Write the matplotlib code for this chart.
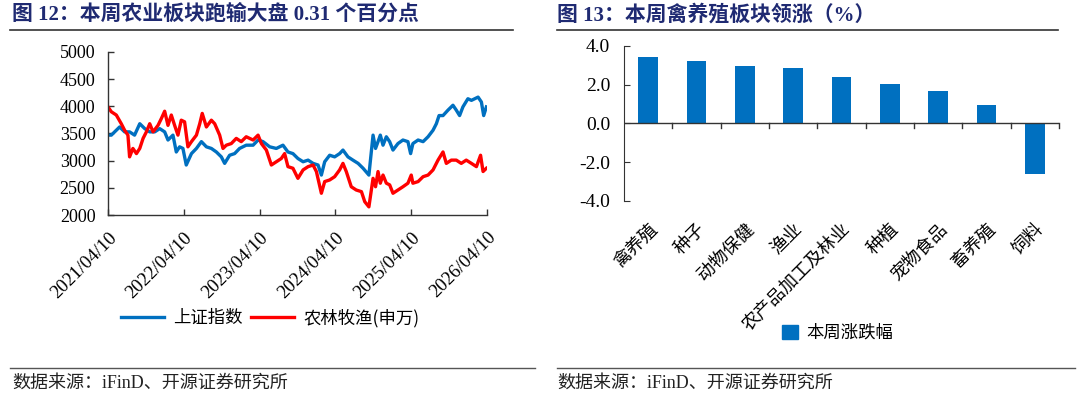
import matplotlib
matplotlib.use("Agg")
import matplotlib.pyplot as plt
import pandas as pd
from matplotlib.lines import Line2D
from matplotlib.patches import Patch

plt.rcParams['font.family'] = ['Liberation Serif', 'Noto Sans CJK SC', 'DejaVu Sans']

# ---------------- data ----------------
sh_dates = ["2021-04-10", "2021-04-26", "2021-05-20", "2021-06-05", "2021-06-29", "2021-07-23",
            "2021-08-16", "2021-09-10", "2021-10-04", "2021-10-28", "2021-11-21", "2021-12-15",
            "2022-01-08", "2022-01-24", "2022-02-17", "2022-03-05", "2022-03-21", "2022-04-06",
            "2022-04-22", "2022-05-17", "2022-06-10", "2022-07-04", "2022-07-28", "2022-08-21",
            "2022-09-14", "2022-10-08", "2022-10-24", "2022-11-17", "2022-12-11", "2023-01-04",
            "2023-02-05", "2023-03-10", "2023-04-03", "2023-04-27", "2023-05-29", "2023-06-30",
            "2023-08-01", "2023-08-25", "2023-09-18", "2023-10-12", "2023-11-06", "2023-11-30",
            "2023-12-24", "2024-01-17", "2024-02-02", "2024-02-18", "2024-03-13", "2024-04-06",
            "2024-04-30", "2024-05-16", "2024-06-09", "2024-07-03", "2024-07-28", "2024-08-21",
            "2024-09-18", "2024-10-08", "2024-10-20", "2024-11-01", "2024-11-12", "2024-11-25",
            "2024-12-11", "2024-12-27", "2025-01-12", "2025-02-05", "2025-03-01", "2025-03-25",
            "2025-04-07", "2025-04-18", "2025-05-13", "2025-06-06", "2025-06-30", "2025-07-24",
            "2025-08-09", "2025-08-22", "2025-09-10", "2025-10-04", "2025-10-28", "2025-11-13",
            "2025-11-29", "2025-12-15", "2026-01-08", "2026-01-25", "2026-02-10", "2026-02-26",
            "2026-03-14", "2026-03-25", "2026-04-07"]
sh_values = [3470, 3470, 3560, 3620, 3530, 3530,
             3470, 3680, 3590, 3530, 3530, 3590,
             3530, 3380, 3470, 3160, 3255, 3225,
             2920, 3130, 3225, 3350, 3255, 3225,
             3160, 3070, 2950, 3100, 3130, 3225,
             3285, 3285, 3380, 3350, 3255, 3225,
             3285, 3160, 3130, 3040, 2980, 3010,
             2950, 2920, 2735, 2980, 3100, 3070,
             3130, 3195, 3070, 3010, 2950, 2860,
             2735, 3470, 3225, 3350, 3470, 3285,
             3440, 3350, 3195, 3315, 3380, 3350,
             3130, 3315, 3380, 3350, 3440, 3560,
             3680, 3830, 3830, 3930, 4020, 3930,
             3830, 3990, 4140, 4110, 4140, 4170,
             4080, 3830, 3990]

ag_dates = ["2021-04-10", "2021-04-26", "2021-05-20", "2021-06-13", "2021-06-29", "2021-07-15",
            "2021-07-23", "2021-08-08", "2021-08-25", "2021-09-10", "2021-09-26", "2021-10-12",
            "2021-10-28", "2021-11-13", "2021-12-07", "2021-12-23", "2022-01-08", "2022-01-24",
            "2022-02-09", "2022-02-25", "2022-03-13", "2022-03-29", "2022-04-14", "2022-04-30",
            "2022-05-17", "2022-06-10", "2022-06-26", "2022-07-08", "2022-07-28", "2022-08-21",
            "2022-09-06", "2022-09-30", "2022-10-16", "2022-11-01", "2022-11-25", "2022-12-19",
            "2023-01-12", "2023-02-05", "2023-03-10", "2023-04-03", "2023-04-19", "2023-05-13",
            "2023-06-06", "2023-06-30", "2023-07-24", "2023-08-09", "2023-08-25", "2023-09-18",
            "2023-10-12", "2023-11-06", "2023-11-30", "2023-12-24", "2024-01-09", "2024-02-02",
            "2024-02-18", "2024-03-13", "2024-04-06", "2024-04-30", "2024-05-16", "2024-06-01",
            "2024-06-25", "2024-07-19", "2024-08-13", "2024-08-29", "2024-09-18", "2024-10-08",
            "2024-10-20", "2024-11-01", "2024-11-12", "2024-11-25", "2024-12-11", "2024-12-27",
            "2025-01-12", "2025-02-05", "2025-03-01", "2025-03-25", "2025-04-10", "2025-04-18",
            "2025-05-13", "2025-06-06", "2025-06-30", "2025-07-24", "2025-08-17", "2025-09-10",
            "2025-09-26", "2025-10-20", "2025-11-13", "2025-12-07", "2025-12-31", "2026-01-25",
            "2026-02-18", "2026-03-10", "2026-03-22", "2026-04-07"]
ag_values = [3990, 3900, 3840, 3680, 3560, 3470,
             3070, 3225, 3130, 3225, 3410, 3530,
             3680, 3530, 3650, 3775, 3910, 3650,
             3840, 3650, 3470, 3745, 3715, 3255,
             3350, 3470, 3680, 3870, 3620, 3745,
             3680, 3470, 3225, 3285, 3315, 3410,
             3350, 3440, 3380, 3470, 3315, 3195,
             2920, 2980, 3040, 3130, 2890, 2860,
             2675, 2830, 2890, 2920, 2800, 2400,
             2615, 2645, 2705, 2830, 2950, 2800,
             2520, 2460, 2430, 2245, 2150, 2675,
             2520, 2800, 2585, 2735, 2585, 2555,
             2400, 2460, 2520, 2585, 2735, 2585,
             2615, 2705, 2735, 2830, 3010, 3160,
             2950, 3010, 3010, 2950, 3010, 2950,
             2890, 3100, 2800, 2860]

date_ticks = ["2021-04-10", "2022-04-10", "2023-04-10", "2024-04-10", "2025-04-10", "2026-04-10"]
date_tick_labels = ["2021/04/10", "2022/04/10", "2023/04/10", "2024/04/10", "2025/04/10", "2026/04/10"]
y_ticks_left = [2000, 2500, 3000, 3500, 4000, 4500, 5000]

categories = ["禽养殖", "种子", "动物保健", "渔业", "农产品加工及林业", "种植", "宠物食品", "畜养殖", "饲料"]
weekly_change = [3.41, 3.24, 2.95, 2.84, 2.41, 2.05, 1.69, 0.93, -2.64]
y_ticks_right = [-4.0, -2.0, 0.0, 2.0, 4.0]

# ---------------- figure ----------------
BLUE = "#0070C0"
RED = "#FF0000"
TITLE_C = "#1F2A72"

fig = plt.figure(figsize=(10.8, 3.99), dpi=100)

# Titles and rules
fig.text(12/1080, 1-15/399, "图 12：本周农业板块跑输大盘 0.31 个百分点", fontsize=15, fontweight='bold',
         color=TITLE_C, ha='left', va='center')
fig.text(557/1080, 1-15/399, "图 13：本周禽养殖板块领涨（%）", fontsize=15, fontweight='bold',
         color=TITLE_C, ha='left', va='center')
for x0, x1 in [(10, 513), (557, 1058)]:
    fig.add_artist(Line2D([x0/1080, x1/1080], [1-30/399, 1-30/399], color='#333333', lw=1.2))
for x0, x1 in [(10, 535), (557, 1075)]:
    fig.add_artist(Line2D([x0/1080, x1/1080], [1-368/399, 1-368/399], color='#555555', lw=1.0))
fig.text(12/1080, 1-383/399, "数据来源：iFinD、开源证券研究所", fontsize=13, color='#222222', ha='left', va='center')
fig.text(557/1080, 1-383/399, "数据来源：iFinD、开源证券研究所", fontsize=13, color='#222222', ha='left', va='center')

# ---------- left: line chart ----------
ax1 = fig.add_axes([108/1080, 1-215/399, 379/1080, 163/399])
sh_x = pd.to_datetime(sh_dates)
ag_x = pd.to_datetime(ag_dates)
l1, = ax1.plot(sh_x, sh_values, color=BLUE, lw=2.4, label="上证指数")
l2, = ax1.plot(ag_x, ag_values, color=RED, lw=2.4, label="农林牧渔(申万)")
ax1.set_xlim(pd.Timestamp(date_ticks[0]), pd.Timestamp(date_ticks[-1]))
ax1.set_ylim(2000, 5000)
ax1.set_yticks(y_ticks_left)
ax1.set_yticklabels([str(v) for v in y_ticks_left], fontsize=13)
ax1.set_xticks(pd.to_datetime(date_ticks))
ax1.set_xticklabels(date_tick_labels, rotation=45, ha='right', rotation_mode='anchor', fontsize=13.5)
for s in ['top', 'right']:
    ax1.spines[s].set_visible(False)
for s in ['left', 'bottom']:
    ax1.spines[s].set_color('#333333')
    ax1.spines[s].set_linewidth(1.0)
ax1.tick_params(axis='both', direction='in', length=4, color='#333333', width=1.0)
ax1.tick_params(axis='x', pad=10)
ax1.tick_params(axis='y', pad=9)

fig.legend(handles=[l1, l2], loc='center', bbox_to_anchor=(270/1080, 1-318/399), ncol=2, frameon=False,
           prop={'family': ['Noto Sans CJK SC'], 'size': 12.5}, handlelength=2.5, columnspacing=0.5,
           handletextpad=0.5)

# ---------- right: bar chart ----------
ax2 = fig.add_axes([624/1080, 1-200.7/399, 435/1080, 154.7/399])
xpos = list(range(len(categories)))
ax2.bar(xpos, weekly_change, width=0.41, color=BLUE, label="本周涨跌幅", zorder=2)
ax2.set_xlim(-0.5, len(categories) - 0.5)
ax2.set_ylim(-4.0, 4.0)
ax2.set_yticks(y_ticks_right)
ax2.set_yticklabels([f"{v:.1f}" for v in y_ticks_right], fontsize=14)
for s in ['top', 'right', 'bottom']:
    ax2.spines[s].set_visible(False)
ax2.spines['left'].set_color('#333333')
ax2.axhline(0, color='#333333', lw=1.0, zorder=3)
ax2.tick_params(axis='y', direction='in', length=4, color='#333333', pad=10)
ax2.set_xticks(xpos)
ax2.set_xticklabels(categories, rotation=45, ha='right', rotation_mode='anchor',
                    fontsize=13, family=['Noto Sans CJK SC'])
ax2.tick_params(axis='x', length=0, pad=14)
# boundary ticks hanging below the zero line
for b in [i + 0.5 for i in xpos]:
    ax2.plot([b, b], [0, -0.22], color='#333333', lw=1.0, zorder=3, clip_on=False)

fig.legend(handles=[Patch(color=BLUE, label="本周涨跌幅")], loc='center',
           bbox_to_anchor=(838/1080, 1-333/399), frameon=False,
           prop={'family': ['Noto Sans CJK SC'], 'size': 12.5}, handlelength=0.9, handleheight=0.9,
           handletextpad=0.5)

fig.savefig("out.png", dpi=100)
